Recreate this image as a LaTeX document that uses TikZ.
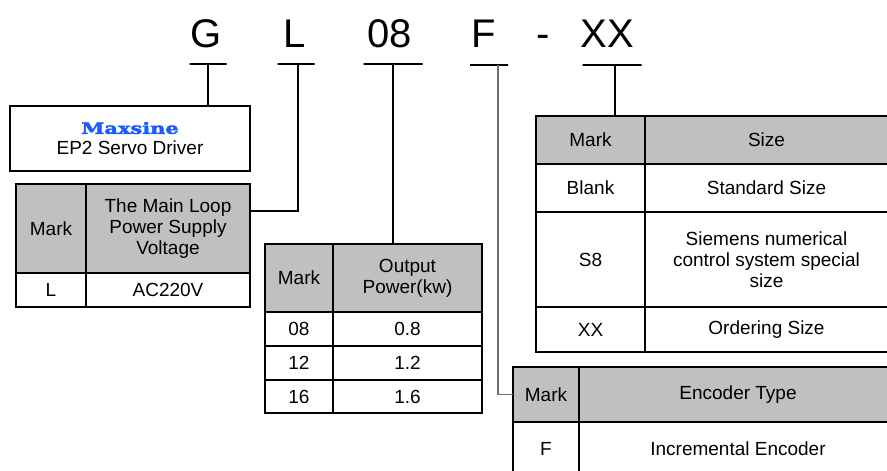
\documentclass[tikz,border=0pt]{standalone}
\usepackage{fontspec}
\setmainfont{Liberation Sans}
\newfontfamily\brandfont[FakeStretch=1.35,FakeBold=3]{DejaVu Serif}
\definecolor{codeGray}{HTML}{C0C0C0}
\definecolor{codeBlue}{HTML}{1A5CFF}
\definecolor{codeLine}{HTML}{6E6E6E}
\tikzset{
  code diagram/.style={
    x=1pt, y=-1pt, line width=1.8pt,
    every node/.style={font=\fontsize{19}{21}\selectfont,
      text=black, inner sep=0pt, outer sep=0pt, align=center}
  },
  code letter/.style={font=\fontsize{40}{40}\selectfont, anchor=base},
  code bar/.style={draw, line width=1.8pt, minimum height=0pt},
  code cell/.style={draw, line width=2.6pt, fill=white},
  code head/.style={code cell, fill=codeGray},
  code link/.style={draw=black, line width=1.8pt}
}
\newcommand{\CodeCell}[6]{%
  \node[#5, minimum width=#3pt, minimum height=#4pt] (#1) at (#2) {#6};
}

\begin{document}
\begin{tikzpicture}[code diagram]
    \useasboundingbox (0,0) rectangle (887,471);
    \clip (0,0) rectangle (887,471);
    \node[code letter] (cG) at (206.5,47) {G};
    \node[code letter] (cL) at (295,47) {L};
    \node[code letter] (c08) at (390,47) {08};
    \node[code letter] (cF) at (484,47) {F};
    \node[code letter] (cDash) at (543,47) {-};
    \node[code letter] (cXX) at (607,47) {XX};
    \node[code bar, minimum width=37pt] (uG) at (208,64) {};
    \node[code bar, minimum width=37pt] (uL) at (296,64) {};
    \node[code bar, minimum width=59pt] (u08) at (393,64) {};
    \node[code bar, minimum width=38pt] (uF) at (489,65) {};
    \node[code bar, minimum width=59pt] (uXX) at (612,65) {};
    \node[draw, line width=2.6pt, minimum width=240pt, minimum height=65pt] (brand)
      at (130,138.5) {{\brandfont\bfseries\fontsize{15.5}{21}\selectfont\color{codeBlue}Maxsine}\\EP2 Servo Driver};
    \CodeCell{Lm0}{51,228.5}{70}{89}{code head}{Mark}
    \CodeCell{Lv0}{168,228.5}{164}{89}{code head}{The Main Loop\\Power Supply\\Voltage}
    \CodeCell{Lm1}{51,290}{70}{34}{code cell}{L}
    \CodeCell{Lv1}{168,290}{164}{34}{code cell}{AC220V}
    \CodeCell{Pm0}{299,278}{68}{68}{code head}{Mark}
    \CodeCell{Pv0}{407.5,278}{149}{68}{code head}{Output\\Power(kw)}
    \CodeCell{Pm1}{299,329}{68}{34}{code cell}{08}
    \CodeCell{Pv1}{407.5,329}{149}{34}{code cell}{0.8}
    \CodeCell{Pm2}{299,363}{68}{34}{code cell}{12}
    \CodeCell{Pv2}{407.5,363}{149}{34}{code cell}{1.2}
    \CodeCell{Pm3}{299,396.5}{68}{33}{code cell}{16}
    \CodeCell{Pv3}{407.5,396.5}{149}{33}{code cell}{1.6}
    \CodeCell{Sm0}{590.5,140}{109}{48}{code head}{Mark}
    \CodeCell{Sv0}{766.5,140}{243}{48}{code head}{Size}
    \CodeCell{Sm1}{590.5,188}{109}{48}{code cell}{Blank}
    \CodeCell{Sv1}{766.5,188}{243}{48}{code cell}{Standard Size}
    \CodeCell{Sm2}{590.5,259.5}{109}{95}{code cell}{S8}
    \CodeCell{Sv2}{766.5,259.5}{243}{95}{code cell}{Siemens numerical\\control system special\\size}
    \CodeCell{Sm3}{590.5,329.5}{109}{45}{code cell}{XX}
    \CodeCell{Sv3}{766.5,329.5}{243}{45}{code cell}{Ordering Size}
    \CodeCell{Em0}{546,394.5}{66}{55}{code head}{Mark}
    \CodeCell{Ev0}{738,394.5}{318}{55}{code head}{Encoder Type}
    \CodeCell{Em1}{546,449}{66}{54}{code cell}{F}
    \CodeCell{Ev1}{738,449}{318}{54}{code cell}{Incremental Encoder}
    \coordinate (jL) at (298,211);
    \coordinate (jF) at (498,65);
    \coordinate (jXX) at (615,65);
    \draw[code link] (uG) -- (uG |- brand.north);
    \draw[code link] (uL.center -| jL) -- (jL) -- (jL -| Lv0.east);
    \draw[code link] (u08) -- (u08 |- Pv0.north);
    \draw[code link, draw=codeLine, line width=1.3pt] (jF) |- (Em0.west);
    \draw[code link] (jXX) -- (jXX |- Sm0.north);
  \end{tikzpicture}
\end{document}
